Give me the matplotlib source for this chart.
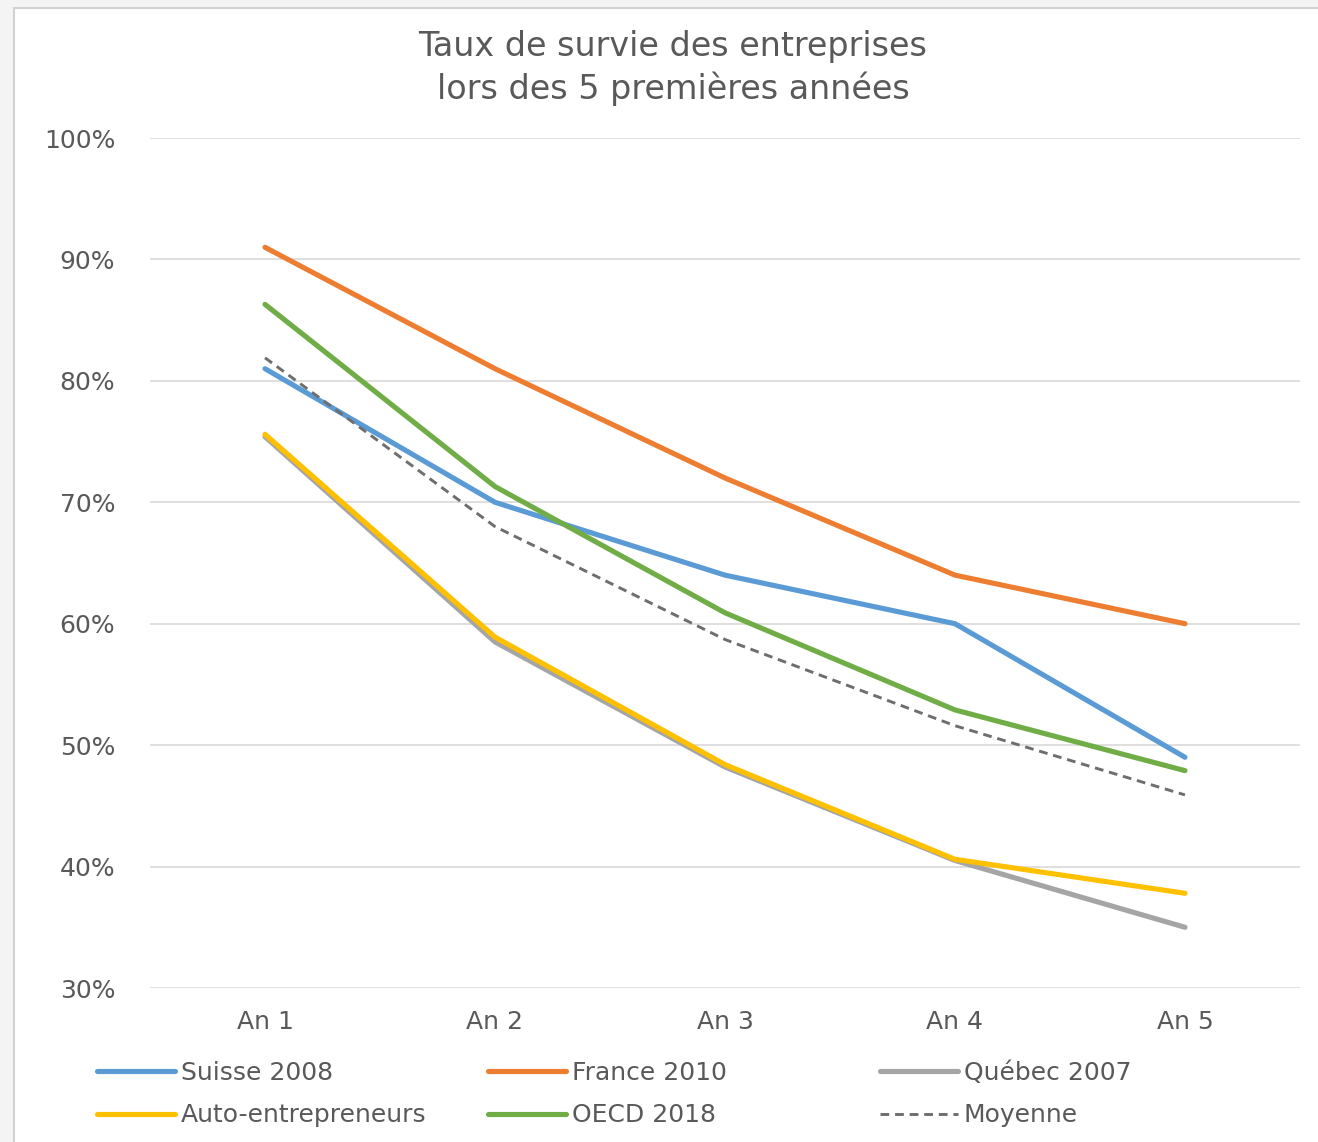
import matplotlib
matplotlib.use("Agg")
import matplotlib.pyplot as plt
from matplotlib.patches import Rectangle
from matplotlib.ticker import PercentFormatter

# Data (survival rate in %)
years = ["An 1", "An 2", "An 3", "An 4", "An 5"]
suisse = [81.0, 70.0, 64.0, 60.0, 49.0]
france = [91.0, 81.0, 72.0, 64.0, 60.0]
quebec = [75.4, 58.5, 48.2, 40.5, 35.0]
auto = [75.6, 58.9, 48.4, 40.6, 37.8]
oecd = [86.3, 71.3, 60.9, 52.9, 47.9]
moyenne = [81.9, 68.0, 58.7, 51.6, 45.9]

W, H = 1318, 1142
fig = plt.figure(figsize=(W / 100, H / 100), dpi=100, facecolor="#F4F4F4")

# white chart area with thin grey frame (screenshot look)
fig.patches.append(Rectangle((14 / W, -0.01), 1.02, 1 - 8 / H + 0.01,
                             transform=fig.transFigure, facecolor="white",
                             edgecolor="#D2D2D2", linewidth=1.5, zorder=-10))

ax = fig.add_axes([150 / W, 1 - 988 / H, 1150 / W, 850 / H])
ax.set_facecolor("none")
ax.set_zorder(1)

x = range(len(years))
lw = 3.7
ax.plot(x, suisse, color="#5B9BD5", lw=lw, solid_capstyle="round", label="Suisse 2008")
ax.plot(x, france, color="#ED7D31", lw=lw, solid_capstyle="round", label="France 2010")
ax.plot(x, quebec, color="#A5A5A5", lw=lw, solid_capstyle="round", label="Québec 2007")
ax.plot(x, auto, color="#FFC000", lw=lw, solid_capstyle="round", label="Auto-entrepreneurs")
ax.plot(x, oecd, color="#70AD47", lw=lw, solid_capstyle="round", label="OECD 2018")
ax.plot(x, moyenne, color="#6E6E6E", lw=2.1, ls=(0, (3, 2)), label="Moyenne")

ax.set_xlim(-0.5, len(years) - 0.5)
ax.set_ylim(30, 100)
ax.set_yticks(range(30, 101, 10))
ax.yaxis.set_major_formatter(PercentFormatter(decimals=0))
ax.set_xticks(list(x))
ax.set_xticklabels(years)
ax.grid(axis="y", color="#D9D9D9", lw=1.2)
ax.set_axisbelow(True)
for s in ax.spines.values():
    s.set_visible(False)
ax.tick_params(length=0, labelsize=18, colors="#595959")
ax.tick_params(axis="y", pad=25)
ax.tick_params(axis="x", pad=16)

fig.text(673 / W, 1 - 68 / H, "Taux de survie des entreprises\nlors des 5 premières années",
         ha="center", va="center", fontsize=24, color="#595959", linespacing=1.3)

# legend: three columns at fixed positions, filled row by row
h, l = ax.get_legend_handles_labels()
col_x = [97, 488, 880]
for c, xc in enumerate(col_x):
    fig.legend([h[c], h[c + 3]], [l[c], l[c + 3]], ncol=1,
               loc="center left", bbox_to_anchor=(xc / W, 1 - 1094 / H),
               frameon=False, fontsize=18, labelcolor="#595959",
               handlelength=3.1, handletextpad=0.25, borderaxespad=0,
               borderpad=0, labelspacing=0.75)

fig.savefig("out.png", dpi=100, facecolor=fig.get_facecolor())
